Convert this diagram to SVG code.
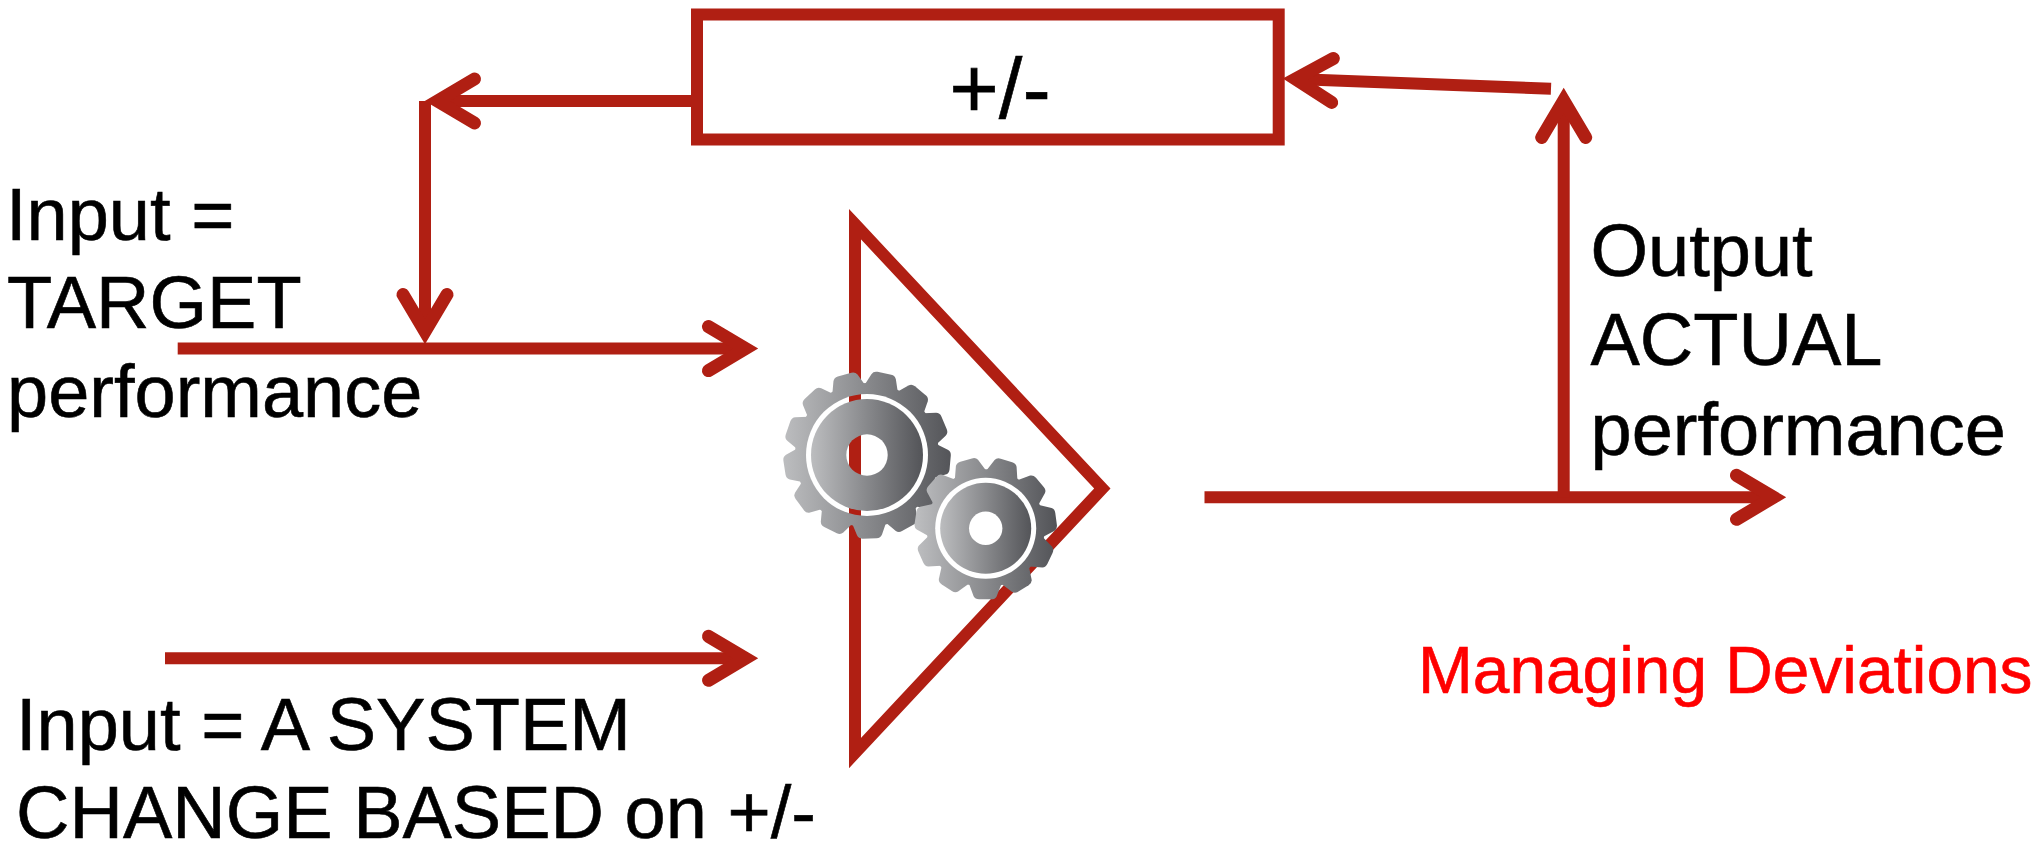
<svg xmlns="http://www.w3.org/2000/svg" xmlns:xlink="http://www.w3.org/1999/xlink" width="2042" height="845" viewBox="0 0 2042 845">
<style>
.ln{fill:none;stroke:#b01f13;stroke-width:12}
.head{fill:none;stroke:#b01f13;stroke-width:13;stroke-linecap:round;stroke-linejoin:miter;stroke-miterlimit:10}
.t{font-family:"Liberation Sans",Arial,sans-serif;font-size:74px;fill:#000;stroke:#000;stroke-width:.6px}
.r{font-size:65.800px;fill:#f00;stroke:#f00}
</style>
<defs>
<marker id="arr" markerUnits="userSpaceOnUse" orient="auto" markerWidth="70" markerHeight="80" refX="50.500" refY="40" overflow="visible"><path class="head" d="M13,18L50,40L13,62"/></marker>
<linearGradient id="g1o" gradientUnits="userSpaceOnUse" x1="784" y1="0" x2="952" y2="0"><stop offset="0" stop-color="#bcbdbf"/><stop offset="1" stop-color="#535458"/></linearGradient>
<linearGradient id="g1i" gradientUnits="userSpaceOnUse" x1="811" y1="0" x2="923" y2="0"><stop offset="0" stop-color="#bcbdbf"/><stop offset="1" stop-color="#535458"/></linearGradient>
<linearGradient id="g2o" gradientUnits="userSpaceOnUse" x1="917" y1="0" x2="1056" y2="0"><stop offset="0" stop-color="#bcbdbf"/><stop offset="1" stop-color="#535458"/></linearGradient>
<linearGradient id="g2i" gradientUnits="userSpaceOnUse" x1="940" y1="0" x2="1032" y2="0"><stop offset="0" stop-color="#bcbdbf"/><stop offset="1" stop-color="#535458"/></linearGradient>
<path id="t1" d="M-17,-68L-12.500,-80Q-11,-83.500 -7,-83.500L7,-83.500Q11,-83.500 12.500,-80L17,-68Z" fill="#fff"/>
<path id="t2" d="M-16,-56L-11.500,-68Q-10,-71 -6,-71L6,-71Q10,-71 11.500,-68L16,-56Z" fill="#fff"/>
<mask id="m1o" maskUnits="userSpaceOnUse" x="770" y="360" width="200" height="190">
<g transform="translate(867 455)">
<circle r="72" fill="#fff"/>
<use xlink:href="#t1" transform="rotate(12)"/><use xlink:href="#t1" transform="rotate(39.7)"/><use xlink:href="#t1" transform="rotate(67.4)"/><use xlink:href="#t1" transform="rotate(95.1)"/><use xlink:href="#t1" transform="rotate(122.8)"/><use xlink:href="#t1" transform="rotate(150.5)"/><use xlink:href="#t1" transform="rotate(178.2)"/><use xlink:href="#t1" transform="rotate(205.9)"/><use xlink:href="#t1" transform="rotate(233.6)"/><use xlink:href="#t1" transform="rotate(261.3)"/><use xlink:href="#t1" transform="rotate(289)"/><use xlink:href="#t1" transform="rotate(316.7)"/><use xlink:href="#t1" transform="rotate(344.4)"/>
<circle r="61" fill="#000"/>
</g>
</mask>
<mask id="m1i" maskUnits="userSpaceOnUse" x="770" y="360" width="200" height="190">
<g transform="translate(867 455)"><circle r="56" fill="#fff"/><circle r="20.700" fill="#000"/></g>
</mask>
<mask id="m2o" maskUnits="userSpaceOnUse" x="900" y="440" width="170" height="170">
<g transform="translate(985.7 528.3)">
<circle r="59" fill="#fff"/>
<use xlink:href="#t2" transform="rotate(17)"/><use xlink:href="#t2" transform="rotate(49.7)"/><use xlink:href="#t2" transform="rotate(82.4)"/><use xlink:href="#t2" transform="rotate(115.1)"/><use xlink:href="#t2" transform="rotate(147.8)"/><use xlink:href="#t2" transform="rotate(180.5)"/><use xlink:href="#t2" transform="rotate(213.2)"/><use xlink:href="#t2" transform="rotate(245.9)"/><use xlink:href="#t2" transform="rotate(278.6)"/><use xlink:href="#t2" transform="rotate(311.3)"/><use xlink:href="#t2" transform="rotate(344)"/>
<circle r="50.500" fill="#000"/>
</g>
</mask>
<mask id="m2i" maskUnits="userSpaceOnUse" x="900" y="440" width="170" height="170">
<g transform="translate(985.7 528.3)"><circle r="45.500" fill="#fff"/><circle r="16.700" fill="#000"/></g>
</mask>
</defs>
<rect width="2042" height="845" fill="#fff"/>
<g id="connectors">
<path class="ln" d="M691,101H437" marker-end="url(#arr)"/>
<path class="ln" d="M425,101V332" marker-end="url(#arr)"/>
<path class="ln" d="M177.700,348.600H746" marker-end="url(#arr)"/>
<path class="ln" d="M165,658.300H746" marker-end="url(#arr)"/>
<path class="ln" d="M1204.500,497.300H1774" marker-end="url(#arr)"/>
<path class="ln" d="M1563.700,497.300V100" marker-end="url(#arr)"/>
<path class="ln" d="M1551,88.700L1295,79" marker-end="url(#arr)"/>
</g>
<g id="comparator">
<rect x="697" y="14.500" width="581.700" height="125" fill="#fff" stroke="#b01f13" stroke-width="12"/>
<text class="t" x="1000" y="118" text-anchor="middle" style="font-size:85px">+/-</text>
</g>
<g id="system">
<path class="ln" d="M855,224.200L1102.300,488.500L855,753Z" stroke-miterlimit="10"/>
</g>
<g id="gear-large">
<rect x="770" y="360" width="200" height="190" fill="url(#g1o)" mask="url(#m1o)"/>
<rect x="770" y="360" width="200" height="190" fill="url(#g1i)" mask="url(#m1i)"/>
</g>
<g id="gear-small">
<rect x="900" y="440" width="170" height="170" fill="url(#g2o)" mask="url(#m2o)"/>
<rect x="900" y="440" width="170" height="170" fill="url(#g2i)" mask="url(#m2i)"/>
</g>
<g id="label-target">
<text class="t" x="6" y="240">Input =</text>
<text class="t" x="7" y="328.300">TARGET</text>
<text class="t" x="7" y="417">performance</text>
</g>
<g id="label-change">
<text class="t" x="16" y="750">Input = A SYSTEM</text>
<text class="t" x="16" y="838">CHANGE BASED on +/-</text>
</g>
<g id="label-output">
<text class="t" x="1590.500" y="276">Output</text>
<text class="t" x="1590.500" y="365">ACTUAL</text>
<text class="t" x="1590.500" y="454.500">performance</text>
</g>
<g id="label-managing">
<text class="t r" x="1418" y="692.700">Managing Deviations</text>
</g>
</svg>
